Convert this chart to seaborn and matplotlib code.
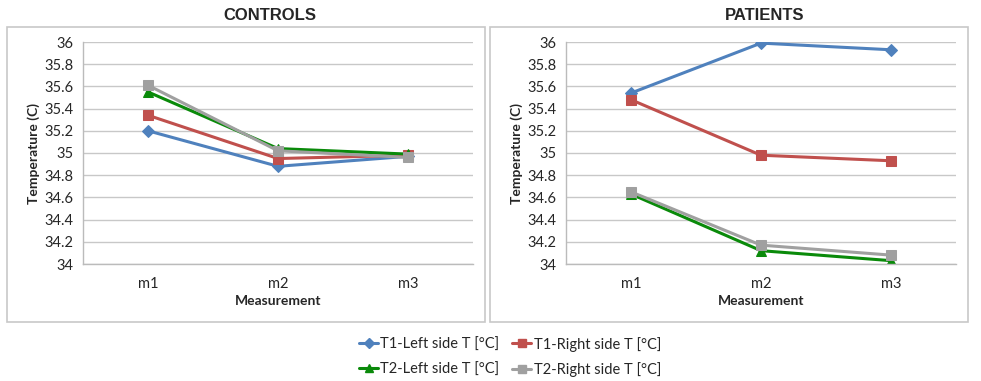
import numpy as np
import pandas as pd
import matplotlib
matplotlib.use("Agg")
import matplotlib.pyplot as plt
from matplotlib.patches import Rectangle
from matplotlib.lines import Line2D
import seaborn as sns

# Dados
measurements = ["m1", "m2", "m3"]
series_names = ["T1-Left side T [°C]", "T1-Right side T [°C]",
                "T2-Left side T [°C]", "T2-Right side T [°C]"]

controls_t1_left = [35.20, 34.88, 34.97]
controls_t1_right = [35.34, 34.95, 34.98]
controls_t2_left = [35.55, 35.04, 34.99]
controls_t2_right = [35.61, 35.02, 34.96]

patients_t1_left = [35.54, 35.99, 35.93]
patients_t1_right = [35.48, 34.98, 34.93]
patients_t2_left = [34.63, 34.12, 34.03]
patients_t2_right = [34.65, 34.17, 34.08]

y_ticks = [34, 34.2, 34.4, 34.6, 34.8, 35, 35.2, 35.4, 35.6, 35.8, 36]

colors = ["#4F81BD", "#C0504D", "#0A8A0A", "#A0A0A0"]
markers = ["D", "s", "^", "s"]
msizes = [6, 7, 7, 7]

def long_table(values):
    rows = []
    for name, vals in zip(series_names, values):
        for m, v in zip(measurements, vals):
            rows.append({"Measurement": m, "serie": name, "temp": v})
    return pd.DataFrame(rows)

df_controls = long_table([controls_t1_left, controls_t1_right,
                          controls_t2_left, controls_t2_right])
df_patients = long_table([patients_t1_left, patients_t1_right,
                          patients_t2_left, patients_t2_right])

sns.set_style("white")
plt.rcParams["font.family"] = ["Lato", "DejaVu Sans"]

fig = plt.figure(figsize=(9.81, 3.81), dpi=100)
W, H = 981, 381

# Caixas dos painéis
for x0 in [7, 490]:
    fig.patches.append(Rectangle((x0 / W, 1 - 322 / H), 478 / W, 295 / H,
                                 transform=fig.transFigure, fill=False,
                                 edgecolor="#C8C8C8", lw=1.2))

axes_px = [(83, 473), (566, 956)]
titles = ["CONTROLS", "PATIENTS"]
title_x = [270, 765]

for (x0, x1), df, title, tx in zip(axes_px, [df_controls, df_patients], titles, title_x):
    ax = fig.add_axes([x0 / W, 1 - 264 / H, (x1 - x0) / W, (264 - 42) / H])
    for i, name in enumerate(series_names):
        sub = df[df["serie"] == name]
        sns.lineplot(data=sub, x="Measurement", y="temp", ax=ax, color=colors[i],
                     marker=markers[i], markersize=msizes[i], markeredgecolor=colors[i],
                     lw=2.2, sort=False, legend=False)
    ax.set_xlim(-0.5, 2.5)
    ax.set_ylim(34, 36)
    ax.set_yticks(y_ticks)
    ax.set_yticklabels([f"{t:g}" for t in y_ticks])
    ax.set_xticks([0, 1, 2])
    ax.set_xticklabels(measurements)
    ax.set_xticks([-0.5, 0.5, 1.5, 2.5], minor=True)
    ax.tick_params(axis="x", which="major", length=0, pad=9, labelsize=10.5)
    ax.tick_params(axis="x", which="minor", length=4, color="#BBBBBB", width=1)
    ax.tick_params(axis="y", length=4, color="#BBBBBB", width=1, labelsize=10.5, pad=3)
    ax.grid(axis="y", color="#C8C8C8", lw=1)
    ax.set_axisbelow(True)
    for s in ["top", "right"]:
        ax.spines[s].set_visible(False)
    for s in ["left", "bottom"]:
        ax.spines[s].set_color("#BBBBBB")
        ax.spines[s].set_linewidth(1)
    ax.set_xlabel("Measurement", fontsize=10, fontweight="bold", labelpad=3)
    ax.set_ylabel("Temperature (C)", fontsize=10, fontweight="bold", labelpad=3)
    fig.text(tx / W, 1 - 15 / H, title, ha="center", va="center",
             fontsize=12, fontweight="bold", family=["Liberation Sans", "DejaVu Sans"])

handles = [Line2D([], [], color=c, marker=m, markersize=ms - 1, lw=2.2, markeredgecolor=c)
           for c, m, ms in zip(colors, markers, msizes)]
# legenda preenche por coluna: reordena para ficar T1 na primeira linha
order = [0, 2, 1, 3]
fig.legend([handles[i] for i in order], [series_names[i] for i in order],
           loc="center", bbox_to_anchor=(510 / W, 1 - 357 / H),
           ncol=2, frameon=False, fontsize=10.5, handlelength=1.3, handletextpad=0.15,
           columnspacing=0.9, labelspacing=0.75)

plt.savefig("out.png", dpi=100)
plt.close()
